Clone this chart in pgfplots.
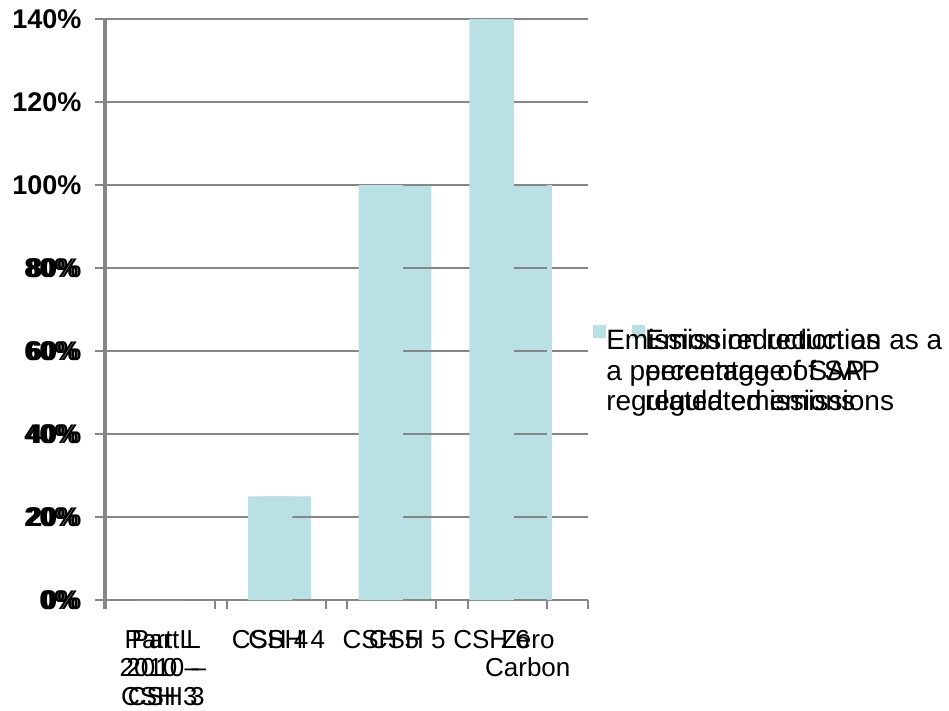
\documentclass[border=0pt]{standalone}
\usepackage{pgfplots}
\pgfplotsset{compat=1.18}
\usepackage{fontspec}
\setmainfont{Liberation Sans}
\definecolor{barc}{RGB}{185,224,227}
\definecolor{gridc}{RGB}{134,134,134}
\newcommand{\lfont}{\fontsize{26bp}{28.5bp}\selectfont}
\newcommand{\yfont}{\fontsize{27bp}{30bp}\selectfont\bfseries}
\newcommand{\gfont}{\fontsize{28bp}{30.5bp}\selectfont}
\pgfplotsset{
  common/.style={
    scale only axis,
    anchor=south west,
    height=581bp,
    ymin=0, ymax=140,
    xmin=-0.5, xmax=3.5,
    ytick={0,20,...,140},
    ymajorgrids,
    grid style={draw=gridc, line width=2.4bp},
    axis x line*=bottom,
    axis y line*=left,
    axis line style={-, draw=gridc, line width=2.4bp},
    tick align=outside,
    major tick length=9bp,
    tick style={draw=gridc, line width=2bp},
    xtick={-0.5,0.5,1.5,2.5,3.5},
    xticklabels={},
    extra x ticks={0,1,2,3},
    extra x tick style={tick style={draw=none}},
    xticklabel style={font=\lfont, align=center, yshift=-18bp},
    ybar, bar width=0.4,
    legend image code/.code={\fill[barc] (0bp,2bp) rectangle (13bp,15bp);},
    legend cell align=left,
  }
}
\begin{document}
\begin{tikzpicture}
\path[use as bounding box] (0,0) rectangle (949bp,-711bp);
% lower chart
\begin{axis}[common,
  at={(106bp,-600bp)}, width=482bp,
  yticklabels={0\%,20\%,40\%,60\%,80\%,{},{},{}},
  yticklabel style={font=\yfont, xshift=-15bp},
  extra x tick labels={{Part L\\2010 –\\CSH 3},{CSH 4},{CSH 5},{Zero\\Carbon}},
  legend style={draw=none, fill=none, inner sep=0pt, anchor=north west,
    at={(1.091,0.473)}, font=\gfont, nodes={inner sep=0pt},
    /tikz/every even column/.append style={column sep=2bp}},
]
\addplot[fill=barc, draw=none] coordinates {(0,0) (1,25) (2,100) (3,100)};
\addlegendentry{\parbox[t]{300bp}{Emission reduction as a\\percentage of SAP\\regulated emissions}}
\end{axis}
% upper chart
\begin{axis}[common,
  at={(104bp,-600bp)}, width=443bp,
  yticklabels={0\%,20\%,40\%,60\%,80\%,100\%,120\%,140\%},
  yticklabel style={font=\yfont, xshift=-10bp},
  extra x tick labels={{Part L\\2010 –\\CSH 3},{CSH 4},{CSH 5},{CSH 6}},
  legend style={draw=none, fill=none, inner sep=0pt, anchor=north west,
    at={(1.104,0.473)}, font=\gfont, nodes={inner sep=0pt},
    /tikz/every even column/.append style={column sep=3bp}},
]
\addplot[fill=barc, draw=none] coordinates {(0,0) (1,25) (2,100) (3,140)};
\addlegendentry{\parbox[t]{300bp}{Emission reduction as\\a percentage of SAP\\regulated emissions}}
\end{axis}
\end{tikzpicture}
\end{document}
